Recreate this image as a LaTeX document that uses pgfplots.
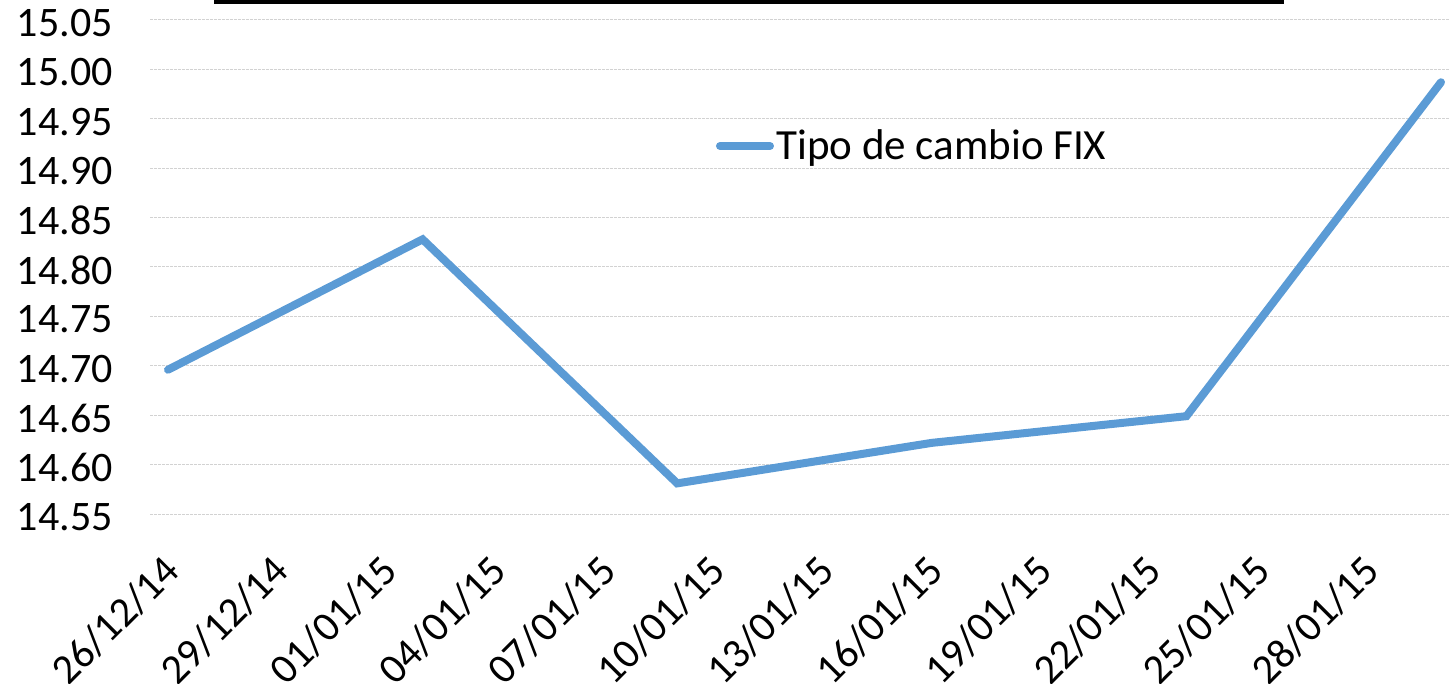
\documentclass[border=0pt]{standalone}
\usepackage{pgfplots}
\pgfplotsset{compat=1.18}
\usepackage{fontspec}
\setmainfont{Carlito}
\definecolor{fixblue}{RGB}{91,155,213}
\definecolor{gridgray}{RGB}{210,210,210}
\newcommand{\chartfont}{\fontsize{21.5bp}{25bp}\selectfont}
\newcommand{\tickfont}{\fontsize{21bp}{25bp}\selectfont}
\begin{document}
\begin{tikzpicture}
\useasboundingbox (0,0) rectangle (724.5bp,342bp);
\fill[black] (107bp,340bp) rectangle (642bp,342.5bp);
\begin{axis}[
  at={(75bp,85bp)}, anchor=south west,
  scale only axis, width=649.5bp, height=247bp,
  xmin=-0.495, xmax=35.22, ymin=14.55, ymax=15.05,
  axis line style={draw=none},
  major tick length=0pt,
  xtick={0,3,6,9,12,15,18,21,24,27,30,33},
  xticklabels={26/12/14,29/12/14,01/01/15,04/01/15,07/01/15,10/01/15,13/01/15,16/01/15,19/01/15,22/01/15,25/01/15,28/01/15},
  ytick={14.55,14.60,14.65,14.70,14.75,14.80,14.85,14.90,14.95,15.00,15.05},
  yticklabels={14.55,14.60,14.65,14.70,14.75,14.80,14.85,14.90,14.95,15.00,15.05},
  ymajorgrids,
  major grid style={gridgray, line width=0.5bp, dash pattern=on 1.5bp off 0.5bp},
  tick label style={font=\tickfont, inner sep=0pt, text=black},
  yticklabel style={anchor=east, xshift=-18.5bp, yshift=-1.5bp},
  xticklabel style={xshift=-3.5bp, yshift=-19bp, rotate=45, anchor=north east},
  legend style={at={(0.4354,0.745)}, anchor=west, draw=none, fill=none, inner sep=0pt, font=\chartfont, nodes={inner sep=1.2bp}},
  legend image code/.code={\draw[#1] (0bp,0bp) -- (25bp,0bp);},
]
\addplot[fixblue, line width=4bp, line cap=round, line join=miter] coordinates {
  (0,14.696) (7,14.828) (14,14.581) (21,14.622) (28,14.649) (35,14.987)
};
\addlegendentry{Tipo de cambio FIX}
\end{axis}
\end{tikzpicture}
\end{document}
